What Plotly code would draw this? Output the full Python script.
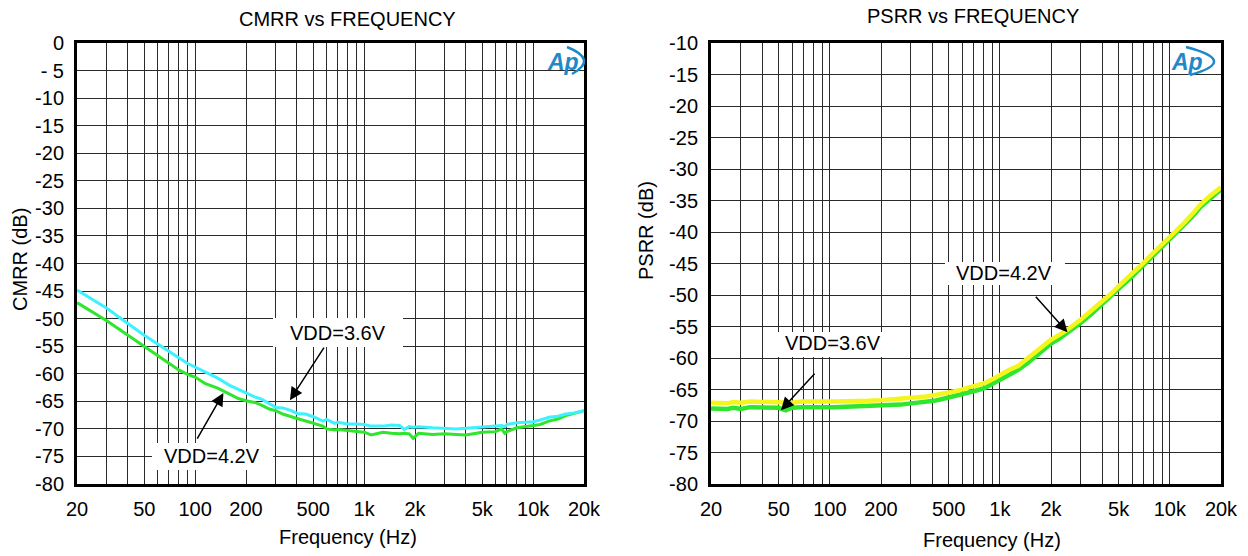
import math
import plotly.graph_objects as go

W, H = 1248, 556

# ---------------- data ----------------
cmrr_freq = [20, 25, 30, 35, 40, 45, 50, 60, 70, 80, 90, 100, 115, 136, 160, 180, 200,
             225, 247, 275, 300, 330, 371, 400, 450, 500, 570, 600, 669, 700, 800, 900,
             1000, 1100, 1290, 1450, 1620, 1730, 1850, 1950, 2100, 2550, 3000, 3500,
             4000, 5000, 6000, 6500, 6800, 7000, 8000, 10000, 11000, 12400, 14000,
             15600, 17500, 20000]
cmrr_vdd36 = [-44.8, -46.6, -48.1, -49.6, -50.9, -52.0, -53.0, -54.6, -56.0, -57.1, -58.1,
              -58.8, -59.8, -60.8, -62.1, -62.8, -63.5, -64.2, -64.6, -65.4, -66.1, -66.2,
              -66.7, -67.2, -67.3, -67.8, -68.6, -68.3, -69.0, -68.8, -69.1, -69.1, -69.2,
              -69.5, -69.5, -69.3, -69.4, -70.1, -69.6, -69.7, -69.6, -69.8, -69.9, -70.0,
              -69.9, -69.7, -69.6, -69.4, -69.6, -69.2, -68.9, -68.7, -68.4, -67.9, -67.7,
              -67.3, -67.1, -66.7]
cmrr_vdd42 = [-47.1, -48.9, -50.4, -51.8, -53.0, -54.2, -55.1, -56.8, -58.1, -59.3, -60.1,
              -60.6, -61.8, -62.6, -63.7, -64.5, -64.9, -65.2, -65.7, -66.4, -66.7, -67.3,
              -67.8, -68.1, -68.6, -69.0, -69.5, -70.0, -70.2, -70.1, -70.3, -70.5, -70.6,
              -71.1, -70.6, -70.8, -70.9, -70.8, -70.9, -71.7, -70.8, -71.0, -70.9, -71.0,
              -71.1, -70.6, -70.5, -70.0, -70.8, -70.5, -69.8, -69.4, -69.2, -68.6, -68.2,
              -67.6, -67.2, -66.7]

psrr_freq = [20, 25, 27, 30, 34, 40, 43, 50, 55, 60, 68, 80, 90, 106, 130, 167, 200, 230,
             262, 300, 329, 370, 411, 460, 517, 580, 647, 720, 811, 900, 1000, 1130, 1274,
             1330, 1459, 1650, 2000, 2250, 2500, 3000, 3500, 4000, 4500, 5000, 6000, 7000,
             8000, 9000, 10000, 11000, 12200, 13500, 15200, 17000, 18500, 20000]
psrr_vdd42 = [-67.1, -67.2, -67.0, -67.1, -66.9, -67.0, -66.9, -67.0, -67.1, -67.1, -66.9,
              -67.0, -66.9, -66.9, -66.9, -66.8, -66.7, -66.6, -66.5, -66.4, -66.3, -66.1,
              -65.9, -65.7, -65.4, -65.1, -64.8, -64.4, -64.0, -63.4, -62.7, -61.9, -61.3,
              -60.9, -60.2, -58.9, -57.1, -56.3, -55.5, -53.9, -52.4, -51.0, -49.8, -48.6,
              -46.7, -44.9, -43.3, -42.0, -40.8, -39.6, -38.5, -37.2, -35.6, -34.4, -33.6,
              -32.9]
psrr_vdd36 = [-68.0, -68.1, -67.9, -68.1, -67.8, -67.9, -67.8, -67.9, -68.3, -67.9, -67.8,
              -67.9, -67.8, -67.8, -67.7, -67.6, -67.6, -67.5, -67.4, -67.2, -67.1, -66.9,
              -66.8, -66.5, -66.2, -65.9, -65.6, -65.2, -64.8, -64.2, -63.5, -62.7, -61.9,
              -61.6, -60.8, -59.6, -57.7, -56.9, -56.0, -54.4, -52.9, -51.4, -50.2, -49.0,
              -47.1, -45.3, -43.7, -42.4, -41.2, -40.0, -38.9, -37.6, -36.0, -34.8, -34.0,
              -33.3]

grid_freqs = [20, 30, 40, 50, 60, 70, 80, 90, 100, 200, 300, 400, 500, 600, 700, 800, 900,
              1000, 2000, 3000, 4000, 5000, 6000, 7000, 8000, 9000, 10000, 20000]
x_labels = {20: "20", 50: "50", 100: "100", 200: "200", 500: "500", 1000: "1k",
            2000: "2k", 5000: "5k", 10000: "10k", 20000: "20k"}

cmrr_yticks = [0, -5, -10, -15, -20, -25, -30, -35, -40, -45, -50, -55, -60, -65, -70, -75, -80]
cmrr_ytext = ["0", "- 5", "-10", "-15", "-20", "-25", "-30", "-35", "-40", "-45", "-50",
              "-55", "-60", "-65", "-70", "-75", "-80"]
psrr_yticks = [-10, -15, -20, -25, -30, -35, -40, -45, -50, -55, -60, -65, -70, -75, -80]
psrr_ytext = ["-10", "-15", "-20", "-25", "-30", "-35", "-40", "-45", "-50", "-55", "-60",
              "-65", "-70", "-75", "-80"]

# ---------------- helpers ----------------
FONT = "Liberation Sans, Arial, sans-serif"


def px(x):
    return x / W


def py(y):
    return 1 - y / H


fig = go.Figure()

fig.add_trace(go.Scatter(x=cmrr_freq, y=cmrr_vdd42, mode="lines", name="VDD=4.2V",
                         line=dict(color="#2EE62E", width=3), xaxis="x", yaxis="y"))
fig.add_trace(go.Scatter(x=cmrr_freq, y=cmrr_vdd36, mode="lines", name="VDD=3.6V",
                         line=dict(color="#3CF2FF", width=3), xaxis="x", yaxis="y"))
fig.add_trace(go.Scatter(x=psrr_freq, y=psrr_vdd36, mode="lines", name="VDD=3.6V",
                         line=dict(color="#2EE62E", width=4.5), xaxis="x2", yaxis="y2"))
fig.add_trace(go.Scatter(x=psrr_freq, y=psrr_vdd42, mode="lines", name="VDD=4.2V",
                         line=dict(color="#F5F51E", width=4.5), xaxis="x2", yaxis="y2"))

tickvals_x = grid_freqs
ticktext_x = [x_labels.get(f, "") for f in grid_freqs]

common_x = dict(type="log", range=[math.log10(20), math.log10(20000)],
                tickvals=tickvals_x, ticktext=ticktext_x, ticks="",
                showgrid=True, gridcolor="#2a2a2a", gridwidth=1,
                showline=True, mirror=True, linecolor="black", linewidth=3,
                tickfont=dict(family=FONT, size=20, color="black"),
                zeroline=False, ticklabelstandoff=5, automargin=False)
common_y = dict(ticks="", showgrid=True, gridcolor="#2a2a2a", gridwidth=1,
                showline=True, mirror=True, linecolor="black", linewidth=3,
                tickfont=dict(family=FONT, size=20, color="black"),
                zeroline=False, ticklabelstandoff=6, automargin=False)

ydom = [py(484), py(43)]

fig.update_layout(
    width=W, height=H, autosize=False,
    margin=dict(l=0, r=0, t=0, b=0, autoexpand=False),
    paper_bgcolor="white", plot_bgcolor="white",
    showlegend=False,
    font=dict(family=FONT, color="black"),
    xaxis=dict(domain=[px(77), px(584)], anchor="y", **common_x),
    yaxis=dict(domain=ydom, anchor="x", range=[-80, 0], tickvals=cmrr_yticks,
               ticktext=cmrr_ytext, **common_y),
    xaxis2=dict(domain=[px(711), px(1221)], anchor="y2", **common_x),
    yaxis2=dict(domain=ydom, anchor="x2", range=[-80, -10], tickvals=psrr_yticks,
                ticktext=psrr_ytext, **common_y),
)

shapes = []
annotations = []


def text_ann(txt, x, y, size=20, angle=0, color="black"):
    annotations.append(dict(text=txt, x=px(x), y=py(y), xref="paper", yref="paper",
                            xanchor="center", yanchor="middle", showarrow=False,
                            textangle=angle, font=dict(family=FONT, size=size, color=color)))


# titles
text_ann("CMRR vs FREQUENCY", 347, 19)
text_ann("PSRR vs FREQUENCY", 973, 16)
text_ann("Frequency (Hz)", 348, 537)
text_ann("Frequency (Hz)", 992, 540)
text_ann("CMRR (dB)", 20, 260, angle=-90)
text_ann("PSRR (dB)", 646, 231, angle=-90)

# label boxes
boxes = [
    ("VDD=3.6V", 273, 403, 318, 347, 338, 333),
    ("VDD=4.2V", 152, 273, 443, 470, 212, 456),
    ("VDD=4.2V", 945, 1065, 262, 285, 1004, 273),
    ("VDD=3.6V", 778, 901, 332, 357, 833, 343),
]
for txt, x0, x1, y0, y1, tx, ty in boxes:
    shapes.append(dict(type="rect", xref="paper", yref="paper", x0=px(x0), x1=px(x1),
                       y0=py(y1), y1=py(y0), fillcolor="white", line=dict(width=0),
                       layer="above"))
    text_ann(txt, tx, ty)

# arrows: tip at data coords (freq, dB), tail offset in pixels
arrows = [
    ("x", "y", 364, -64.8, 35, -54),
    ("x", "y", 147, -63.5, -27, 47),
    ("x2", "y2", 2500, -55.9, -33, -37),
    ("x2", "y2", 51.6, -68.3, 35, -38),
]
for xr, yr, f, db, axp, ayp in arrows:
    annotations.append(dict(text="", x=math.log10(f), y=db, xref=xr, yref=yr,
                            ax=axp, ay=ayp, axref="pixel", ayref="pixel",
                            showarrow=True, arrowhead=2, arrowsize=1.7, arrowwidth=1.5,
                            arrowcolor="black"))

# Ap logos
for cx, cy, arc in [(563, 62, ((567, 47), (584, 60), (572, 74))),
                    (1187, 62, ((1186, 47), (1214, 61), (1190, 75)))]:
    annotations.append(dict(text="<b><i>Ap</i></b>", x=px(cx), y=py(cy), xref="paper",
                            yref="paper", xanchor="center", yanchor="middle", showarrow=False,
                            font=dict(family=FONT, size=23, color="#1E88C8")))
    (x0, y0), (xm, ym), (x2, y2) = arc
    cxp = 2 * xm - 0.5 * (x0 + x2)
    cyp = 2 * ym - 0.5 * (y0 + y2)
    path = "M {:.5f},{:.5f} Q {:.5f},{:.5f} {:.5f},{:.5f}".format(
        px(x0), py(y0), px(cxp), py(cyp), px(x2), py(y2))
    shapes.append(dict(type="path", xref="paper", yref="paper", path=path,
                       line=dict(color="#1E88C8", width=2.5), layer="above"))

fig.update_layout(shapes=shapes, annotations=annotations)

fig.write_html("out.html")
